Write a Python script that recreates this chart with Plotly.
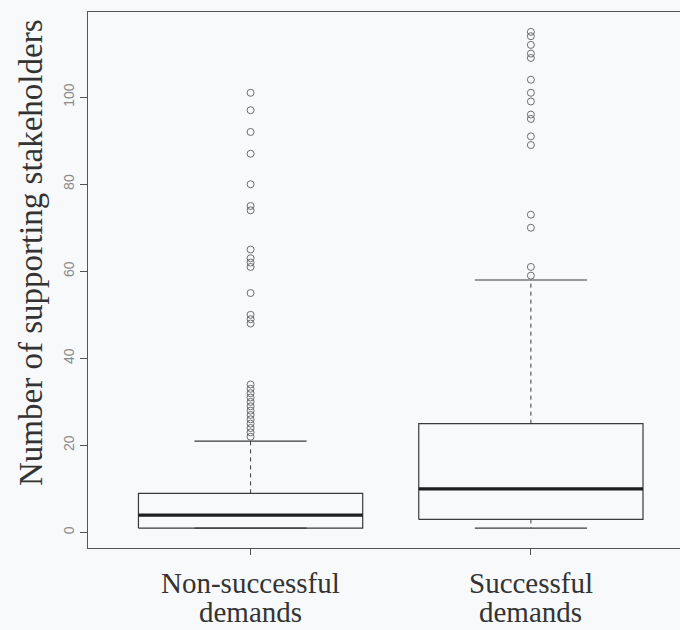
import plotly.graph_objects as go

# Group labels and their box-plot summaries
group_line1 = ["Non-successful", "Successful"]
group_line2 = ["demands", "demands"]
positions = [1, 2]
lower_whisker = [1, 1]
q1 = [1, 3]
median = [4, 10]
q3 = [9, 25]
upper_whisker = [21, 58]

# Points beyond the whiskers, per group
outliers_non = [22, 23, 24, 25, 26, 27, 28, 29, 30, 31, 32, 33, 34,
                48, 49, 50, 55, 61, 62, 63, 65, 74, 75, 80, 87, 92, 97, 101]
outliers_succ = [59, 61, 70, 73, 89, 91, 95, 96, 99, 101, 104, 109, 110, 112, 114, 115]
outliers = [outliers_non, outliers_succ]

y_ticks = [0, 20, 40, 60, 80, 100]
y_title = "Number of supporting stakeholders"

BOX_HALF = 0.4
CAP_HALF = 0.2
LINE = "#3a3a3a"
SERIF = "Liberation Serif"

fig = go.Figure()

for i, x in enumerate(positions):
    # box outline
    fig.add_trace(go.Scatter(
        x=[x - BOX_HALF, x + BOX_HALF, x + BOX_HALF, x - BOX_HALF, x - BOX_HALF],
        y=[q1[i], q1[i], q3[i], q3[i], q1[i]],
        mode="lines", line=dict(color=LINE, width=1.2),
        hoverinfo="skip", showlegend=False))
    # median
    fig.add_trace(go.Scatter(
        x=[x - BOX_HALF, x + BOX_HALF], y=[median[i], median[i]],
        mode="lines", line=dict(color="#1e1e1e", width=3.2),
        hoverinfo="skip", showlegend=False))
    # dashed whiskers
    for a, b in ((q3[i], upper_whisker[i]), (q1[i], lower_whisker[i])):
        if a != b:
            fig.add_trace(go.Scatter(
                x=[x, x], y=[a, b], mode="lines",
                line=dict(color=LINE, width=1, dash="4px,4px"),
                hoverinfo="skip", showlegend=False))
    # whisker caps
    for w in (upper_whisker[i], lower_whisker[i]):
        fig.add_trace(go.Scatter(
            x=[x - CAP_HALF, x + CAP_HALF], y=[w, w], mode="lines",
            line=dict(color=LINE, width=1.2),
            hoverinfo="skip", showlegend=False))
    # outliers
    fig.add_trace(go.Scatter(
        x=[x] * len(outliers[i]), y=outliers[i], mode="markers",
        marker=dict(symbol="circle-open", size=7, color="#6e6e6e",
                    line=dict(width=1, color="#6e6e6e")),
        showlegend=False))

# two-line group labels under the axis, set tightly
label_font = dict(family=SERIF, size=29, color="#333")
for x, l1, l2 in zip(positions, group_line1, group_line2):
    fig.add_annotation(x=x, xref="x", y=0, yref="paper", text=l1,
                       showarrow=False, yanchor="middle", yshift=-35,
                       font=label_font)
    fig.add_annotation(x=x, xref="x", y=0, yref="paper", text=l2,
                       showarrow=False, yanchor="middle", yshift=-64,
                       font=label_font)

# vertical axis title
fig.add_annotation(x=0, xref="paper", y=0.5, yref="paper", text=y_title,
                   textangle=-90, showarrow=False, xanchor="center",
                   yanchor="middle", xshift=-57, yshift=27,
                   font=dict(family=SERIF, size=33, color="#333"))

fig.update_layout(
    width=680, height=630,
    margin=dict(l=88, r=0, t=12, b=82),
    paper_bgcolor="#f8f9fb", plot_bgcolor="#f8f9fb",
    xaxis=dict(
        range=[0.42, 2.532], tickvals=positions, showticklabels=False,
        showgrid=False, zeroline=False,
        showline=True, linecolor="#555", linewidth=1, mirror=True,
        ticks="outside", ticklen=6, tickcolor="#555",
    ),
    yaxis=dict(
        range=[-3.56, 119.56], tickvals=y_ticks,
        showgrid=False, zeroline=False,
        showline=True, linecolor="#555", linewidth=1, mirror=False,
        ticks="outside", ticklen=7, tickcolor="#555",
        tickangle=-90,
        tickfont=dict(family="Liberation Sans", size=14, color="#8a8a8a"),
    ),
)

fig.write_html("out.html")
